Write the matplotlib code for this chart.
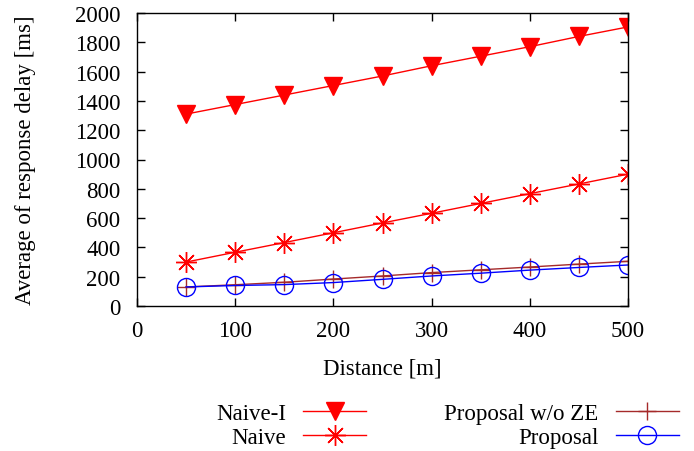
import matplotlib
matplotlib.use("Agg")
import matplotlib.pyplot as plt

plt.rcParams['font.family'] = ['Liberation Serif', 'DejaVu Serif']

distance = [50, 100, 150, 200, 250, 300, 350, 400, 450, 500]
naive_i = [1310, 1375, 1440, 1505, 1570, 1640, 1705, 1770, 1840, 1905]
naive = [300, 367, 433, 500, 567, 633, 700, 767, 833, 900]
proposal_wo_ze = [130, 145, 162, 184, 205, 228, 247, 266, 286, 305]
proposal = [130, 140, 146, 160, 182, 205, 224, 245, 263, 280]

FS = 16.5

fig = plt.figure(figsize=(6.94, 4.52), dpi=100)
ax = fig.add_axes([137/694, 1-307/452, (628-137)/694, (307-14)/452])

l1, = ax.plot(distance, naive_i, color='#ff0000', lw=1, marker='v', ms=13,
              mfc='#ff0000', mec='#ff0000', label='Naive-I')
l2, = ax.plot(distance, naive, color='#ff0000', lw=1, marker=(8, 2, 0), ms=15,
              mew=1, label='Naive')
l3, = ax.plot(distance, proposal_wo_ze, color='#a52a2a', lw=1, marker='+', ms=13,
              mew=1, label='Proposal w/o ZE')
l4, = ax.plot(distance, proposal, color='#0000ff', lw=1, marker='o', ms=13,
              mfc='none', mec='#0000ff', mew=1, label='Proposal')

ax.set_xlim(0, 500)
ax.set_ylim(0, 2000)
ax.set_xticks(range(0, 501, 100))
ax.set_yticks(range(0, 2001, 200))
ax.tick_params(direction='in', top=True, right=True, labelsize=FS, length=6, width=1)
ax.tick_params(axis='y', pad=12)
ax.tick_params(axis='x', pad=10)
for s in ax.spines.values():
    s.set_linewidth(1)
ax.set_xlabel('Distance [m]', fontsize=FS, labelpad=12)
ax.set_ylabel('Average of response delay [ms]', fontsize=FS, labelpad=28)

fig.legend(handles=[l1, l2, l3, l4], loc='upper right', bbox_to_anchor=(690/694, 1-393/452),
           ncol=2, frameon=False, fontsize=FS, markerfirst=False, handlelength=2.75,
           labelspacing=0.1, columnspacing=3.4, handletextpad=0.75, borderpad=0)

fig.savefig('out.png', dpi=100)
